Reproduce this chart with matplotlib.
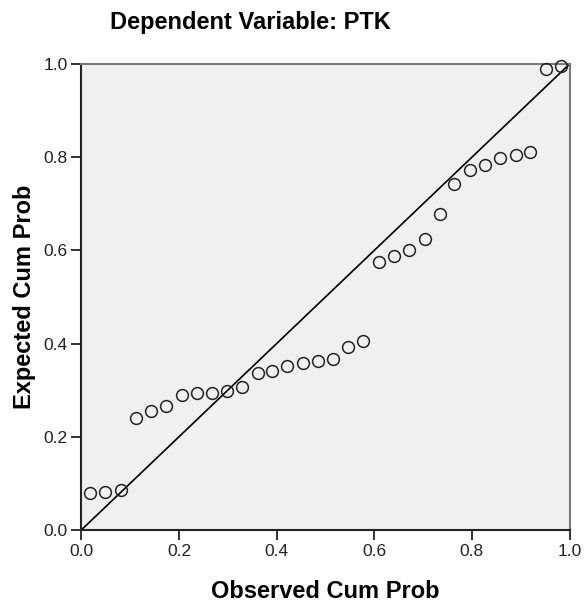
import matplotlib
matplotlib.use('Agg')
from matplotlib import pyplot as plt

plt.rcParams['font.family'] = ['Liberation Sans', 'DejaVu Sans']

# observed vs expected cumulative probability
observed = [0.018, 0.049, 0.081, 0.112, 0.142, 0.174, 0.206, 0.236,
            0.267, 0.299, 0.329, 0.361, 0.391, 0.422, 0.454, 0.484,
            0.515, 0.547, 0.578, 0.610, 0.641, 0.672, 0.703, 0.734,
            0.764, 0.797, 0.827, 0.858, 0.890, 0.919, 0.952, 0.982]
expected = [0.079, 0.081, 0.086, 0.241, 0.255, 0.266, 0.289, 0.294,
            0.295, 0.298, 0.306, 0.338, 0.341, 0.352, 0.359, 0.362,
            0.367, 0.393, 0.405, 0.575, 0.588, 0.602, 0.625, 0.679,
            0.743, 0.773, 0.784, 0.799, 0.805, 0.811, 0.989, 0.995]
ticks = [0.0, 0.2, 0.4, 0.6, 0.8, 1.0]
tick_labels = ['0.0', '0.2', '0.4', '0.6', '0.8', '1.0']

fig = plt.figure(figsize=(5.84, 6.02), dpi=100)
ax = fig.add_axes([0.1392, 0.1196, 0.836, 0.774])
ax.set_facecolor('#f0f0f0')

# diagonal reference line
ax.plot([0, 1], [0, 1], color='black', linewidth=1.2, zorder=2)
ax.plot(observed, expected, linestyle='none', marker='o', markersize=8.5,
        markerfacecolor='none', markeredgecolor='#222222',
        markeredgewidth=1.1, zorder=3, clip_on=False)

ax.set_xlim(0, 1)
ax.set_ylim(0, 1)
ax.set_xticks(ticks)
ax.set_xticklabels(tick_labels)
ax.set_yticks(ticks)
ax.set_yticklabels(tick_labels)
ax.tick_params(direction='out', length=7, width=1.3, color='#222222',
               labelsize=12.5, labelcolor='#222222', pad=3)

for side in ['left', 'bottom']:
    ax.spines[side].set_color('#222222')
    ax.spines[side].set_linewidth(1.5)
for side in ['top', 'right']:
    ax.spines[side].set_color('#7a7a7a')
    ax.spines[side].set_linewidth(1.5)

ax.set_xlabel('Observed Cum Prob', fontsize=17, fontweight='bold', labelpad=15)
ax.set_ylabel('Expected Cum Prob', fontsize=17, fontweight='bold', labelpad=5)
fig.text(250 / 584, 1 - 22 / 602, 'Dependent Variable: PTK', fontsize=17,
         fontweight='bold', ha='center', va='center')

fig.savefig('out.png', dpi=100)
